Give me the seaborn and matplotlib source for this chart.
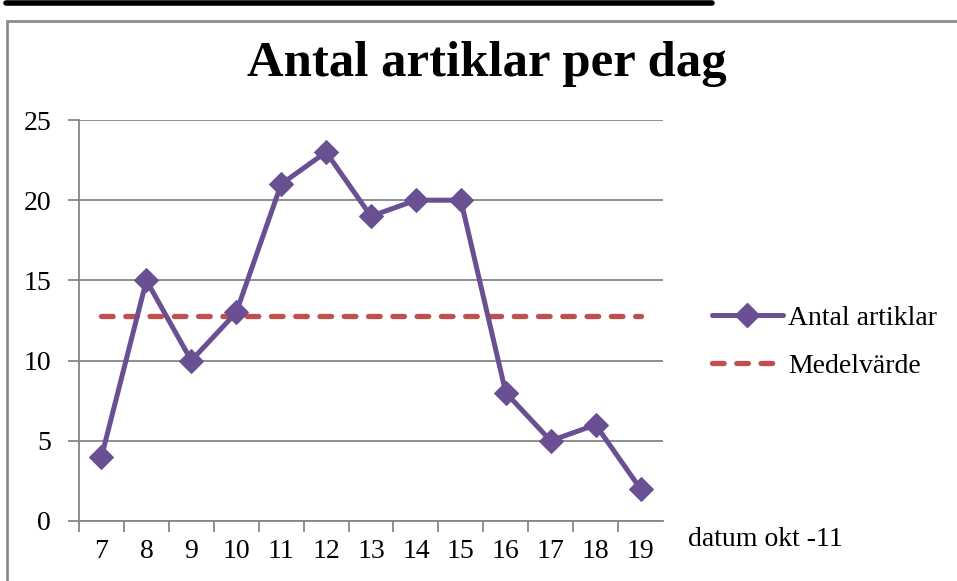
import seaborn as sns
import matplotlib.pyplot as plt
import pandas as pd
from matplotlib.lines import Line2D
from matplotlib.patches import Rectangle

# data
days = [7, 8, 9, 10, 11, 12, 13, 14, 15, 16, 17, 18, 19]
articles = [4, 15, 10, 13, 21, 23, 19, 20, 20, 8, 5, 6, 2]
mean_value = 12.77
y_ticks = [0, 5, 10, 15, 20, 25]

title = "Antal artiklar per dag"
series_label = "Antal artiklar"
mean_label = "Medelvärde"
x_title = "datum okt -11"

purple = "#6A4F93"
red = "#C0504D"
grid_gray = "#868686"
dash = (0, (2.2, 2.4))

df = pd.DataFrame({"day": days, "articles": articles,
                   "mean": [mean_value] * len(days)})

sns.set_style("white")
plt.rcParams["font.family"] = ["Liberation Serif", "DejaVu Serif"]
plt.rcParams["text.color"] = "black"
plt.rcParams["xtick.color"] = "black"
plt.rcParams["ytick.color"] = "black"

fig = plt.figure(figsize=(9.57, 5.81), dpi=100)
ax = fig.add_axes([79 / 957, 1 - 521 / 581, (663 - 79) / 957, (521 - 120) / 581])

sns.lineplot(data=df, x="day", y="mean", ax=ax, color=red, linewidth=3.8,
             linestyle=dash, dash_capstyle="round")
sns.lineplot(data=df, x="day", y="articles", ax=ax, color=purple, linewidth=3.6,
             marker="D", markersize=12.5, markeredgecolor=purple)

ax.set_xlim(days[0] - 0.5, days[-1] + 0.5)
ax.set_ylim(y_ticks[0], y_ticks[-1])

# boundaries between categories get the tick marks, labels sit in between
ax.set_xticks([d - 0.5 for d in days])
ax.set_xticklabels([])
ax.set_xticks(days, minor=True)
ax.set_xticklabels([str(d) for d in days], minor=True, fontsize=20)
ax.tick_params(axis="x", which="major", length=8, width=1.3, color=grid_gray,
               direction="out", bottom=True)
ax.tick_params(axis="x", which="minor", length=0, pad=13, labelcolor="black")

ax.set_yticks(y_ticks)
ax.set_yticklabels([str(v) for v in y_ticks], fontsize=20)
ax.tick_params(axis="y", length=8, width=1.3, color=grid_gray, direction="out",
               left=True, pad=12, labelcolor="black")

ax.grid(axis="y", color=grid_gray, linewidth=1.3)
ax.grid(axis="x", visible=False)
for side in ["top", "right"]:
    ax.spines[side].set_visible(False)
for side in ["left", "bottom"]:
    ax.spines[side].set_color(grid_gray)
    ax.spines[side].set_linewidth(1.3)

ax.set_xlabel("")
ax.set_ylabel("")
fig.text(688 / 957, 1 - 540 / 581, x_title, fontsize=20, va="center", ha="left",
         color="black")

fig.text(487 / 957, 1 - 64 / 581, title, fontsize=36.5, fontweight="bold",
         ha="center", va="center", color="black")

handles = [Line2D([], [], color=purple, linewidth=3.6, marker="D", markersize=12.5),
           Line2D([], [], color=red, linewidth=3.8, linestyle=dash,
                  dash_capstyle="round")]
fig.legend(handles, [series_label, mean_label], loc="center left",
           bbox_to_anchor=(687 / 957, 1 - 342 / 581), frameon=False, fontsize=20,
           handlelength=2.55, handletextpad=0.2, labelspacing=0.8,
           markerfirst=True, labelcolor="black")

# chart frame and the line left over at the top of the page
fig.add_artist(Rectangle((7 / 957, -0.1), 1.1, 1 - 21 / 581 + 0.1,
                         transform=fig.transFigure, fill=False,
                         edgecolor="#8C8C8C", linewidth=2))
fig.add_artist(Line2D([6 / 957, 712 / 957], [1 - 3 / 581, 1 - 3 / 581],
                      transform=fig.transFigure, color="black", linewidth=4))

fig.savefig("out.png", dpi=100)
